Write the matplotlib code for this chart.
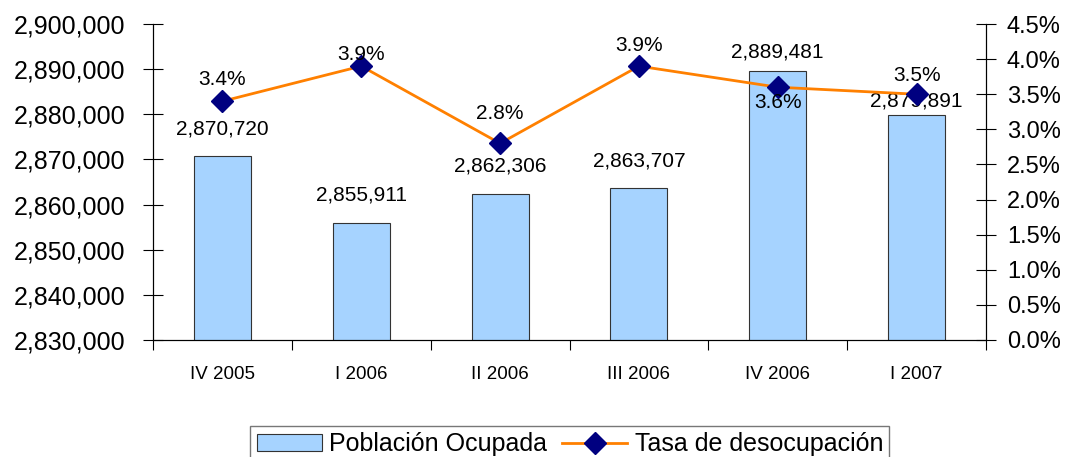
import numpy as np
import matplotlib
matplotlib.use('Agg')
import matplotlib.pyplot as plt
from matplotlib.patches import Patch
from matplotlib.lines import Line2D
from matplotlib.ticker import FuncFormatter, MultipleLocator

plt.rcParams['font.family'] = ['Liberation Sans', 'DejaVu Sans']

quarters = ['IV 2005', 'I 2006', 'II 2006', 'III 2006', 'IV 2006', 'I 2007']
ocupada = [2870720, 2855911, 2862306, 2863707, 2889481, 2879891]
desocupacion = [3.4, 3.9, 2.8, 3.9, 3.6, 3.5]

# label offsets in pixels (vertical), tuned by eye
bar_off = [27, 28, 28, 27, 19, 14]
pct_off = [22, 12, 30, 21, -15, 19]

bar_color = '#A6D3FF'
line_color = '#FF8000'
marker_color = '#000080'

fig = plt.figure(figsize=(10.67, 4.57), dpi=100)
ax = fig.add_axes([153/1067, 1 - 340/457, (986-153)/1067, (340-24)/457])
ax2 = ax.twinx()

x = np.arange(len(quarters))
ax.bar(x, ocupada, width=0.41, color=bar_color, edgecolor='#333333', linewidth=0.8)
ax.set_ylim(2830000, 2900000)
ax.set_xlim(-0.5, len(quarters) - 0.5)
ax.yaxis.set_major_locator(MultipleLocator(10000))
ax.yaxis.set_major_formatter(FuncFormatter(lambda v, p: f'{int(v):,}'))
ax.tick_params(axis='y', direction='inout', length=14, width=0.8, labelsize=18, pad=13)
ax.set_xticks(x)
ax.set_xticklabels(quarters, fontsize=13.5)
ax.tick_params(axis='x', length=0, pad=19)
ax.set_xticks(np.arange(-0.5, len(quarters)), minor=True)
ax.tick_params(axis='x', which='minor', direction='out', length=7, width=0.8)

for i, v in enumerate(ocupada):
    ax.annotate(f'{v:,}', (x[i], v), xytext=(0, bar_off[i] * 0.72),
                textcoords='offset points', ha='center', va='center', fontsize=15)

ax2.plot(x, desocupacion, color=line_color, linewidth=2, marker='D',
         markersize=11, markerfacecolor=marker_color, markeredgecolor=marker_color)
ax2.set_ylim(0, 4.5)
ax2.yaxis.set_major_locator(MultipleLocator(0.5))
ax2.yaxis.set_major_formatter(FuncFormatter(lambda v, p: f'{v:.1f}%'))
ax2.tick_params(axis='y', direction='inout', length=14, width=0.8, labelsize=17, pad=8)

for i, v in enumerate(desocupacion):
    ax2.annotate(f'{v:.1f}%', (x[i], v), xytext=(0, pct_off[i] * 0.72),
                 textcoords='offset points', ha='center', va='center', fontsize=15)

for a in (ax, ax2):
    a.spines['top'].set_visible(False)
    for s in ('left', 'right', 'bottom'):
        a.spines[s].set_linewidth(0.8)

handles = [Patch(facecolor=bar_color, edgecolor='#333333', linewidth=0.8),
           Line2D([], [], color=line_color, linewidth=2, marker='D', markersize=11,
                  markerfacecolor=marker_color, markeredgecolor=marker_color)]
fig.legend(handles, ['Población Ocupada', 'Tasa de desocupación'], loc='upper center',
           bbox_to_anchor=(0.534, 0.085 + 0.01), ncol=2, fontsize=18, frameon=True,
           fancybox=False, edgecolor='#555555', handlelength=2.6, handletextpad=0.3,
           columnspacing=0.6, borderpad=0.25)

fig.savefig('out.png', dpi=100)
